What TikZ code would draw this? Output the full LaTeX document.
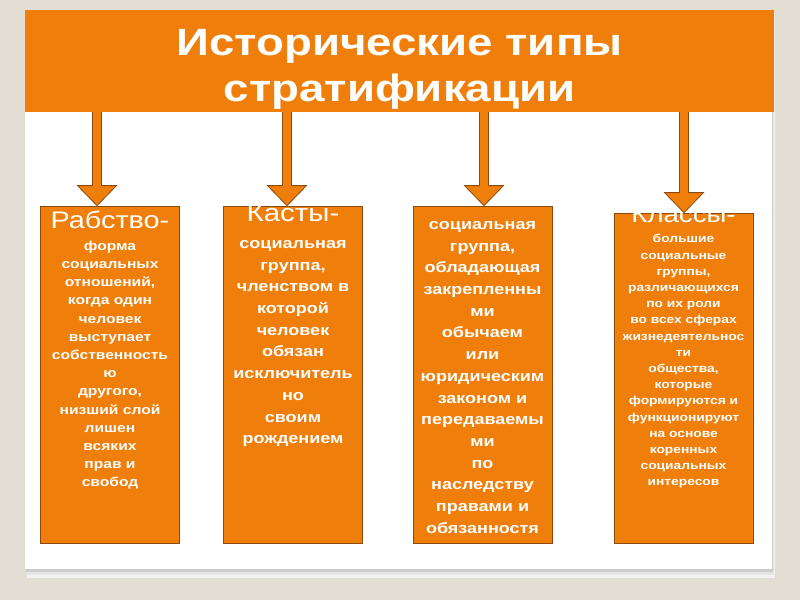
\documentclass[tikz,border=0pt]{standalone}
\usepackage{fontspec}
\newfontfamily\slidefont[FakeStretch=1.2]{Liberation Sans}
\usetikzlibrary{calc}
\definecolor{slideorange}{RGB}{239,127,10}
\definecolor{edge}{RGB}{140,75,12}
\definecolor{paper}{RGB}{227,222,212}
\newcommand{\typehead}[2]{{\mdseries\fontsize{#1}{#1}\selectfont #2}}

\begin{document}
\begin{tikzpicture}[x=1pt,y=-1pt,
  banner/.style={rectangle,fill=slideorange,inner sep=0pt,minimum width=749pt,minimum height=102pt},
  titletext/.style={text=white,align=center,inner sep=0pt,font=\slidefont\bfseries\fontsize{38}{46}\selectfont},
  block/.style={rectangle,draw=edge,line width=0.8pt,fill=slideorange,minimum width=139pt,minimum height=337pt,inner sep=0pt},
  blocktext/.style={anchor=north,align=center,text=white,inner sep=0pt},
  arrow/.style={draw=edge,line width=0.8pt,fill=slideorange}
]
% slide and panel
\fill[paper] (0,0) rectangle (800,600);
\fill[black!5] (27,12) rectangle (775,578);
\fill[black!10] (26,11) rectangle (774,575);
\fill[black!20] (26,11) rectangle (773,572);
\fill[white] (25,10) rectangle (772,569);
\node[banner] (banner) at (399.5,61) {};
\node[titletext] (title) at ($(banner.center)+(0,8.5)$) {Исторические типы\\стратификации};

% the four types
\node[block] (slavery) at (110,374.5) {};
\node[block] (castes) at (293,374.5) {};
\node[block] (estates) at (482.5,374.5) {};
\node[block,minimum height=330pt] (classes) at (683.5,378) {};

\node[blocktext,font=\slidefont\bfseries\fontsize{13}{18.2}\selectfont] (slaverytext) at (110,210.5)
  {\typehead{24}{Рабство-}\\[3.8pt]форма\\социальных\\отношений,\\когда один\\человек\\выступает\\собственность\\ю\\другого,\\низший слой\\лишен\\всяких\\прав и\\свобод};
\node[blocktext,font=\slidefont\bfseries\fontsize{15}{21.7}\selectfont] (castestext) at (293,204.4)
  {\typehead{24.5}{Касты-}\\[5.3pt]социальная\\группа,\\членством в\\которой\\человек\\обязан\\исключитель\\но\\своим\\рождением};
\node[blocktext,font=\slidefont\bfseries\fontsize{15}{21.7}\selectfont] (estatestext) at (482.5,221.2)
  {социальная\\группа,\\обладающая\\закрепленны\\ми\\обычаем\\или\\юридическим\\законом и\\передаваемы\\ми\\по\\наследству\\правами и\\обязанностя\\ми};
\node[blocktext,font=\slidefont\bfseries\fontsize{11.5}{16.2}\selectfont] (classestext) at (683.5,206.5)
  {\typehead{23}{Классы-}\\[4.1pt]большие\\социальные\\группы,\\различающихся\\по их роли\\во всех сферах\\жизнедеятельнос\\ти\\общества,\\которые\\формируются и\\функционируют\\на основе\\коренных\\социальных\\интересов};

% arrows from the title
\foreach \b/\dx in {slavery/-13,castes/-6,estates/1.5,classes/0.5}
  \filldraw[arrow] let \p1=($(\b.north)+(\dx,0)$), \p2=(banner.south) in
    (\x1-4.5pt,\y2) -- (\x1-4.5pt,\y1+20pt) -- (\x1-19.5pt,\y1+20pt) -- (\x1,\y1)
    -- (\x1+19.5pt,\y1+20pt) -- (\x1+4.5pt,\y1+20pt) -- (\x1+4.5pt,\y2);
\end{tikzpicture}
\end{document}
